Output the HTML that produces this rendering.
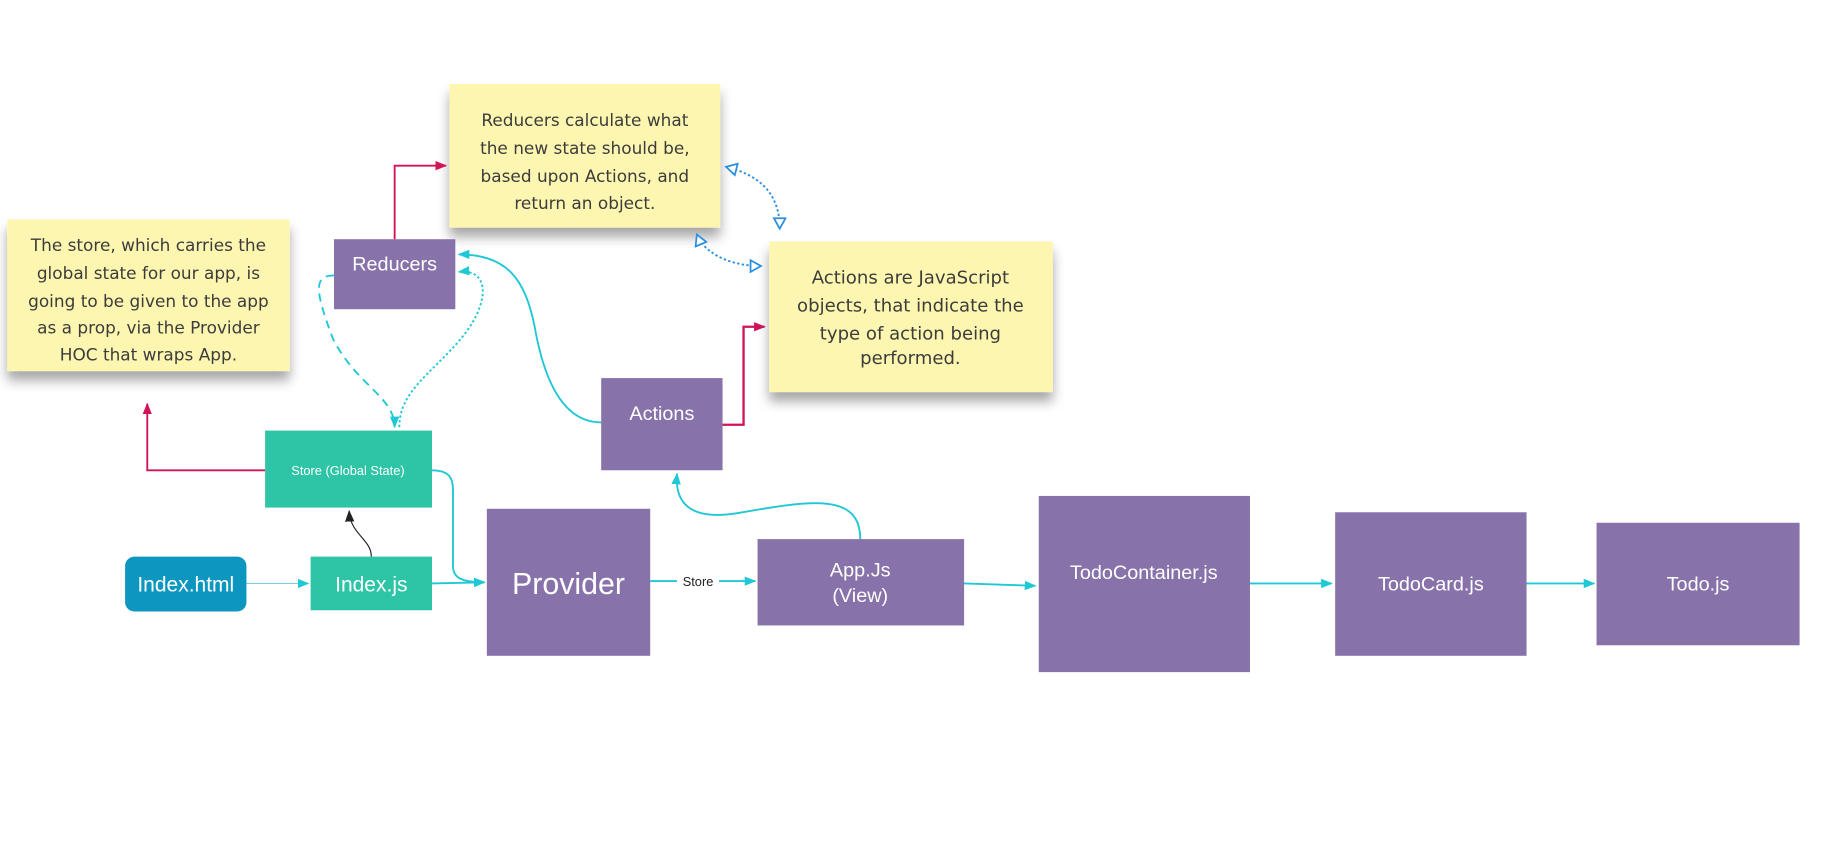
<!DOCTYPE html>
<html><head><meta charset="utf-8"><style>
html,body{margin:0;padding:0;background:#fff;width:1829px;height:853px;overflow:hidden}
svg{display:block}
text{font-family:"Liberation Sans",sans-serif}
.n{font-family:"DejaVu Sans","Liberation Sans",sans-serif;font-size:14.5px;fill:#3c3c3c;text-anchor:middle}
.w{fill:#fff;text-anchor:middle}
</style></head><body>
<svg width="1829" height="853" viewBox="0 0 1567 731" xmlns="http://www.w3.org/2000/svg">
<defs>
<marker id="ac" markerWidth="10" markerHeight="10" refX="9" refY="5" orient="auto" markerUnits="userSpaceOnUse"><path d="M0,1 L10,5 L0,9 Z" fill="#1ec8d4"/></marker>
<marker id="ar" markerWidth="10" markerHeight="10" refX="9" refY="5" orient="auto" markerUnits="userSpaceOnUse"><path d="M0,1 L10,5 L0,9 Z" fill="#d1145a"/></marker>
<marker id="ak" markerWidth="10" markerHeight="10" refX="9" refY="5" orient="auto" markerUnits="userSpaceOnUse"><path d="M0,1 L10,5 L0,9 Z" fill="#222"/></marker>
<marker id="ab" markerWidth="12" markerHeight="12" refX="10" refY="6" orient="auto" markerUnits="userSpaceOnUse"><path d="M1,1 L10,6 L1,11 Z" fill="#fff" stroke="#2a8fe0" stroke-width="1.5"/></marker>
<marker id="abs" markerWidth="12" markerHeight="12" refX="2" refY="6" orient="auto" markerUnits="userSpaceOnUse"><path d="M11,1 L2,6 L11,11 Z" fill="#fff" stroke="#2a8fe0" stroke-width="1.5"/></marker>
<filter id="sh" x="-10%" y="-10%" width="120%" height="140%"><feDropShadow dx="0" dy="8" stdDeviation="5" flood-color="#000" flood-opacity="0.35"/></filter>
</defs>

<!-- sticky notes -->
<rect x="385" y="72" width="232" height="123" fill="#fdf6b0" filter="url(#sh)"/>
<text class="n"><tspan x="501" y="108">Reducers calculate what</tspan><tspan x="501" y="132">the new state should be,</tspan><tspan x="501" y="156">based upon Actions, and</tspan><tspan x="501" y="179">return an object.</tspan></text>

<rect x="6" y="188" width="242" height="130" fill="#fdf6b0" filter="url(#sh)"/>
<text class="n"><tspan x="127" y="215">The store, which carries the</tspan><tspan x="127" y="239">global state for our app, is</tspan><tspan x="127" y="263">going to be given to the app</tspan><tspan x="127" y="286">as a prop, via the Provider</tspan><tspan x="127" y="309">HOC that wraps App.</tspan></text>

<rect x="659" y="207" width="243" height="129" fill="#fdf6b0" filter="url(#sh)"/>
<text class="n" style="font-size:15.5px"><tspan x="780" y="243">Actions are JavaScript</tspan><tspan x="780" y="267">objects, that indicate the</tspan><tspan x="780" y="291">type of action being</tspan><tspan x="780" y="312">performed.</tspan></text>

<!-- connectors -->
<g fill="none" stroke-width="1.6">
<path d="M211,500 L264,500" stroke="#7fcde0" stroke-width="1" marker-end="url(#ac)"/>
<path d="M370,500 L415,499" stroke="#1ec8d4" marker-end="url(#ac)"/>
<path d="M318,477 C318,462 300,458 299,438" stroke="#222" stroke-width="1" marker-end="url(#ak)"/>
<path d="M370,403 C385,403 388,410 388,420 L388,485 C388,495 395,499 415,499" stroke="#1ec8d4" marker-end="url(#ac)"/>
<path d="M227,403 L126,403 L126,346" stroke="#d1145a" marker-end="url(#ar)"/>
<path d="M338,205 L338,142 L382,142" stroke="#d1145a" marker-end="url(#ar)"/>
<path d="M619,364 L637,364 L637,280 L655,280" stroke="#d1145a" stroke-width="2" marker-end="url(#ar)"/>
<path d="M557,498 L580,498" stroke="#1ec8d4"/>
<path d="M616,498 L647,498" stroke="#1ec8d4" marker-end="url(#ac)"/>
<path d="M826,500 L887,502" stroke="#1ec8d4" marker-end="url(#ac)"/>
<path d="M1071,500 L1141,500" stroke="#1ec8d4" marker-end="url(#ac)"/>
<path d="M1308,500 L1366,500" stroke="#1ec8d4" marker-end="url(#ac)"/>
<path d="M737,462 C737,420 690,430 630,440 C590,446 578,430 580,406" stroke="#1ec8d4" marker-end="url(#ac)"/>
<path d="M515,362 C480,362 465,320 458,280 C450,240 435,218 393,218" stroke="#1ec8d4" marker-end="url(#ac)"/>
<path d="M286,236 C268,236 270,250 285,290 C305,330 338,340 338,366" stroke="#1ec8d4" stroke-dasharray="7,5" marker-end="url(#ac)"/>
<path d="M342,366 C342,335 370,320 395,290 C420,260 420,230 393,233" stroke="#1ec8d4" stroke-dasharray="2,2" marker-end="url(#ac)"/>
<path d="M622,143 C650,150 668,165 668,196" stroke="#2a8fe0" stroke-dasharray="2,2" marker-start="url(#abs)" marker-end="url(#ab)"/>
<path d="M597,201 C605,220 630,228 652,228" stroke="#2a8fe0" stroke-dasharray="2,2" marker-start="url(#abs)" marker-end="url(#ab)"/>
</g>
<text x="598" y="502" font-size="11" fill="#222" text-anchor="middle">Store</text>

<!-- boxes -->
<rect x="286" y="205" width="104" height="60" fill="#8872aa"/>
<text class="w" x="338" y="232" font-size="17">Reducers</text>
<rect x="515" y="324" width="104" height="79" fill="#8872aa"/>
<text class="w" x="567" y="360" font-size="17">Actions</text>
<rect x="227" y="369" width="143" height="66" fill="#2ec4a6"/>
<text class="w" x="298" y="407" font-size="11">Store (Global State)</text>
<rect x="107" y="477" width="104" height="47" rx="8" fill="#0d97c0"/>
<text class="w" x="159" y="507" font-size="18">Index.html</text>
<rect x="266" y="477" width="104" height="46" fill="#2ec4a6"/>
<text class="w" x="318" y="507" font-size="18">Index.js</text>
<rect x="417" y="436" width="140" height="126" fill="#8872aa"/>
<text class="w" x="487" y="509" font-size="26">Provider</text>
<rect x="649" y="462" width="177" height="74" fill="#8872aa"/>
<text class="w" x="737" y="494" font-size="17">App.Js</text>
<text class="w" x="737" y="516" font-size="17">(View)</text>
<rect x="890" y="425" width="181" height="151" fill="#8872aa"/>
<text class="w" x="980" y="496" font-size="17">TodoContainer.js</text>
<rect x="1144" y="439" width="164" height="123" fill="#8872aa"/>
<text class="w" x="1226" y="506" font-size="17">TodoCard.js</text>
<rect x="1368" y="448" width="174" height="105" fill="#8872aa"/>
<text class="w" x="1455" y="506" font-size="17">Todo.js</text>
</svg>
</body></html>
